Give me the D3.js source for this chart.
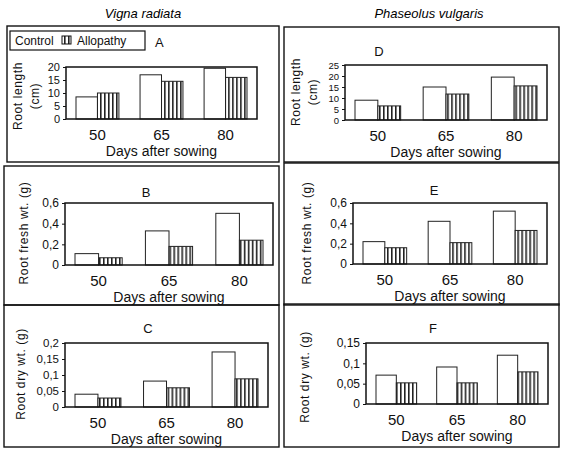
<!DOCTYPE html>
<html><head><meta charset="utf-8">
<script src="https://cdn.jsdelivr.net/npm/d3@7"></script>
<style>
body{margin:0;background:#fff;}
svg{display:block;font-family:"Liberation Sans",Arial,Helvetica,sans-serif;}
</style>
</head><body>
<svg id="chart" width="562" height="450"></svg>
<script>
// ---------- DATA ----------
const days = ["50", "65", "80"];
const seriesNames = ["Control", "Allopathy"];
const speciesTitles = ["Vigna radiata", "Phaseolus vulgaris"];
const xAxisTitle = "Days after sowing";

// Vigna radiata
const lengthVRControl = [8.5, 17, 19.5];
const lengthVRAllopathy = [10, 14.5, 16];
const freshVRControl = [0.11, 0.33, 0.50];
const freshVRAllopathy = [0.07, 0.18, 0.24];
const dryVRControl = [0.040, 0.081, 0.172];
const dryVRAllopathy = [0.028, 0.060, 0.088];
// Phaseolus vulgaris
const lengthPVControl = [9, 15, 19.5];
const lengthPVAllopathy = [6.4, 11.8, 15.5];
const freshPVControl = [0.22, 0.42, 0.52];
const freshPVAllopathy = [0.16, 0.21, 0.33];
const dryPVControl = [0.071, 0.091, 0.12];
const dryPVAllopathy = [0.052, 0.052, 0.079];

// tick labels
const ticksLengthVR = [0, 5, 10, 15, 20];
const ticksLengthPV = [0, 5, 10, 15, 20, 25];
const ticksFresh = [0, 0.2, 0.4, 0.6];
const ticksDryVR = [0, 0.05, 0.1, 0.15, 0.2];
const ticksDryPV = [0, 0.05, 0.1, 0.15];

const yTitleLength = ["Root length", "(cm)"];
const yTitleFresh = ["Root fresh wt. (g)"];
const yTitleDry = ["Root dry wt. (g)"];

// ---------- LAYOUT ----------
const panels = [
  {label:"A", c:lengthVRControl, a:lengthVRAllopathy, ticks:ticksLengthVR, yt:yTitleLength, tf:11,
   frame:[7,26,279,162], plot:[66,67,257,119], lab:[155,47,"start"], ytx:[18,35], yty:96},
  {label:"B", c:freshVRControl, a:freshVRAllopathy, ticks:ticksFresh, yt:yTitleFresh, tf:12,
   frame:[4,166,279,305], plot:[65,203,273,265], lab:[146,197,"middle"], ytx:[24], yty:233},
  {label:"C", c:dryVRControl, a:dryVRAllopathy, ticks:ticksDryVR, yt:yTitleDry, tf:11.5,
   frame:[4,305,279,447], plot:[65,343,268,407], lab:[148,333,"middle"], ytx:[21], yty:374},
  {label:"D", c:lengthPVControl, a:lengthPVAllopathy, ticks:ticksLengthPV, yt:yTitleLength, tf:9.5,
   frame:[284,27,559,162], plot:[345,65,547,120], lab:[379,56,"middle"], ytx:[296,313], yty:92},
  {label:"E", c:freshPVControl, a:freshPVAllopathy, ticks:ticksFresh, yt:yTitleFresh, tf:12,
   frame:[284,163,559,305], plot:[353,203,547,264], lab:[434,195,"middle"], ytx:[307], yty:233},
  {label:"F", c:dryPVControl, a:dryPVAllopathy, ticks:ticksDryPV, yt:yTitleDry, tf:12,
   frame:[284,304,559,447], plot:[366,343,548,404], lab:[433,333,"middle"], ytx:[305], yty:377}
];

const svg = d3.select("#chart");
const defs = svg.append("defs");
const pat = defs.append("pattern").attr("id","stripes").attr("patternUnits","userSpaceOnUse")
  .attr("width",4).attr("height",4);
pat.append("rect").attr("width",4).attr("height",4).attr("fill","#fff");
pat.append("rect").attr("x",0).attr("width",1.6).attr("height",4).attr("fill","#222");

const fmt = d => String(d).replace(".", ",");

// species titles
svg.append("text").attr("x",143).attr("y",18).attr("text-anchor","middle")
  .attr("font-style","italic").attr("font-size",13).text(speciesTitles[0]);
svg.append("text").attr("x",429).attr("y",18).attr("text-anchor","middle")
  .attr("font-style","italic").attr("font-size",13).text(speciesTitles[1]);

panels.forEach(p => {
  const g = svg.append("g");
  const [fx0,fy0,fx1,fy1] = p.frame;
  g.append("rect").attr("x",fx0).attr("y",fy0).attr("width",fx1-fx0).attr("height",fy1-fy0)
    .attr("fill","none").attr("stroke","#111").attr("stroke-width",1.4);

  const [x0,y0,x1,y1] = p.plot;
  const x = d3.scaleBand().domain(days).range([x0+10, x1-10]).paddingInner(0.33).paddingOuter(0);
  const xs = d3.scaleBand().domain(seriesNames).range([0, x.bandwidth()]);
  const y = d3.scaleLinear().domain([0, d3.max(p.ticks)]).range([y1, y0]);

  const rows = days.map((d,i) => ({day:d, vals:[{s:"Control",v:p.c[i]},{s:"Allopathy",v:p.a[i]}]}));
  const grp = g.selectAll("g.grp").data(rows).join("g")
    .attr("transform", d => `translate(${x(d.day)},0)`);
  grp.selectAll("rect").data(d => d.vals).join("rect")
    .attr("x", d => xs(d.s)).attr("width", xs.bandwidth())
    .attr("y", d => y(d.v)).attr("height", d => y(0) - y(d.v))
    .attr("fill", d => d.s === "Control" ? "#fff" : "url(#stripes)")
    .attr("stroke","#222").attr("stroke-width",1);

  // plot frame
  g.append("rect").attr("x",x0).attr("y",y0).attr("width",x1-x0).attr("height",y1-y0)
    .attr("fill","none").attr("stroke","#111").attr("stroke-width",1.5);

  // y axis
  const ya = g.append("g").attr("transform",`translate(${x0},0)`)
    .call(d3.axisLeft(y).tickValues(p.ticks).tickSize(3).tickPadding(3).tickFormat(fmt));
  ya.select(".domain").remove();
  ya.selectAll("text").attr("font-size",p.tf).attr("font-family",null).attr("fill","#111");
  ya.selectAll("line").attr("stroke","#111");

  // x axis
  const xa = g.append("g").attr("transform",`translate(0,${y1})`)
    .call(d3.axisBottom(x).tickSize(0).tickPadding(10));
  xa.select(".domain").remove();
  xa.selectAll("text").attr("font-size",15).attr("font-family",null).attr("fill","#111");

  g.append("text").attr("x",(x0+x1)/2).attr("y",y1+37).attr("text-anchor","middle")
    .attr("font-size",14).attr("fill","#111").text(xAxisTitle);

  // y title
  p.yt.forEach((t,i) => {
    g.append("text").attr("transform",`translate(${p.ytx[i]+4},${p.yty}) rotate(-90)`)
      .attr("text-anchor","middle").attr("font-size",12).attr("letter-spacing",0.6)
      .attr("fill","#111").text(t);
  });

  // panel label
  g.append("text").attr("x",p.lab[0]).attr("y",p.lab[1]).attr("text-anchor",p.lab[2])
    .attr("font-size",13).attr("fill","#111").text(p.label);
});

// legend
const leg = svg.append("g");
leg.append("rect").attr("x",10).attr("y",31).attr("width",135).attr("height",19)
  .attr("fill","#fff").attr("stroke","#111").attr("stroke-width",1.2);
leg.append("text").attr("x",15).attr("y",45).attr("font-size",12).attr("fill","#111").text(seriesNames[0]);
leg.append("rect").attr("x",62).attr("y",36).attr("width",9).attr("height",8)
  .attr("fill","url(#stripes)").attr("stroke","#111");
leg.append("text").attr("x",77).attr("y",45).attr("font-size",12).attr("fill","#111").text(seriesNames[1]);
</script>
</body></html>
